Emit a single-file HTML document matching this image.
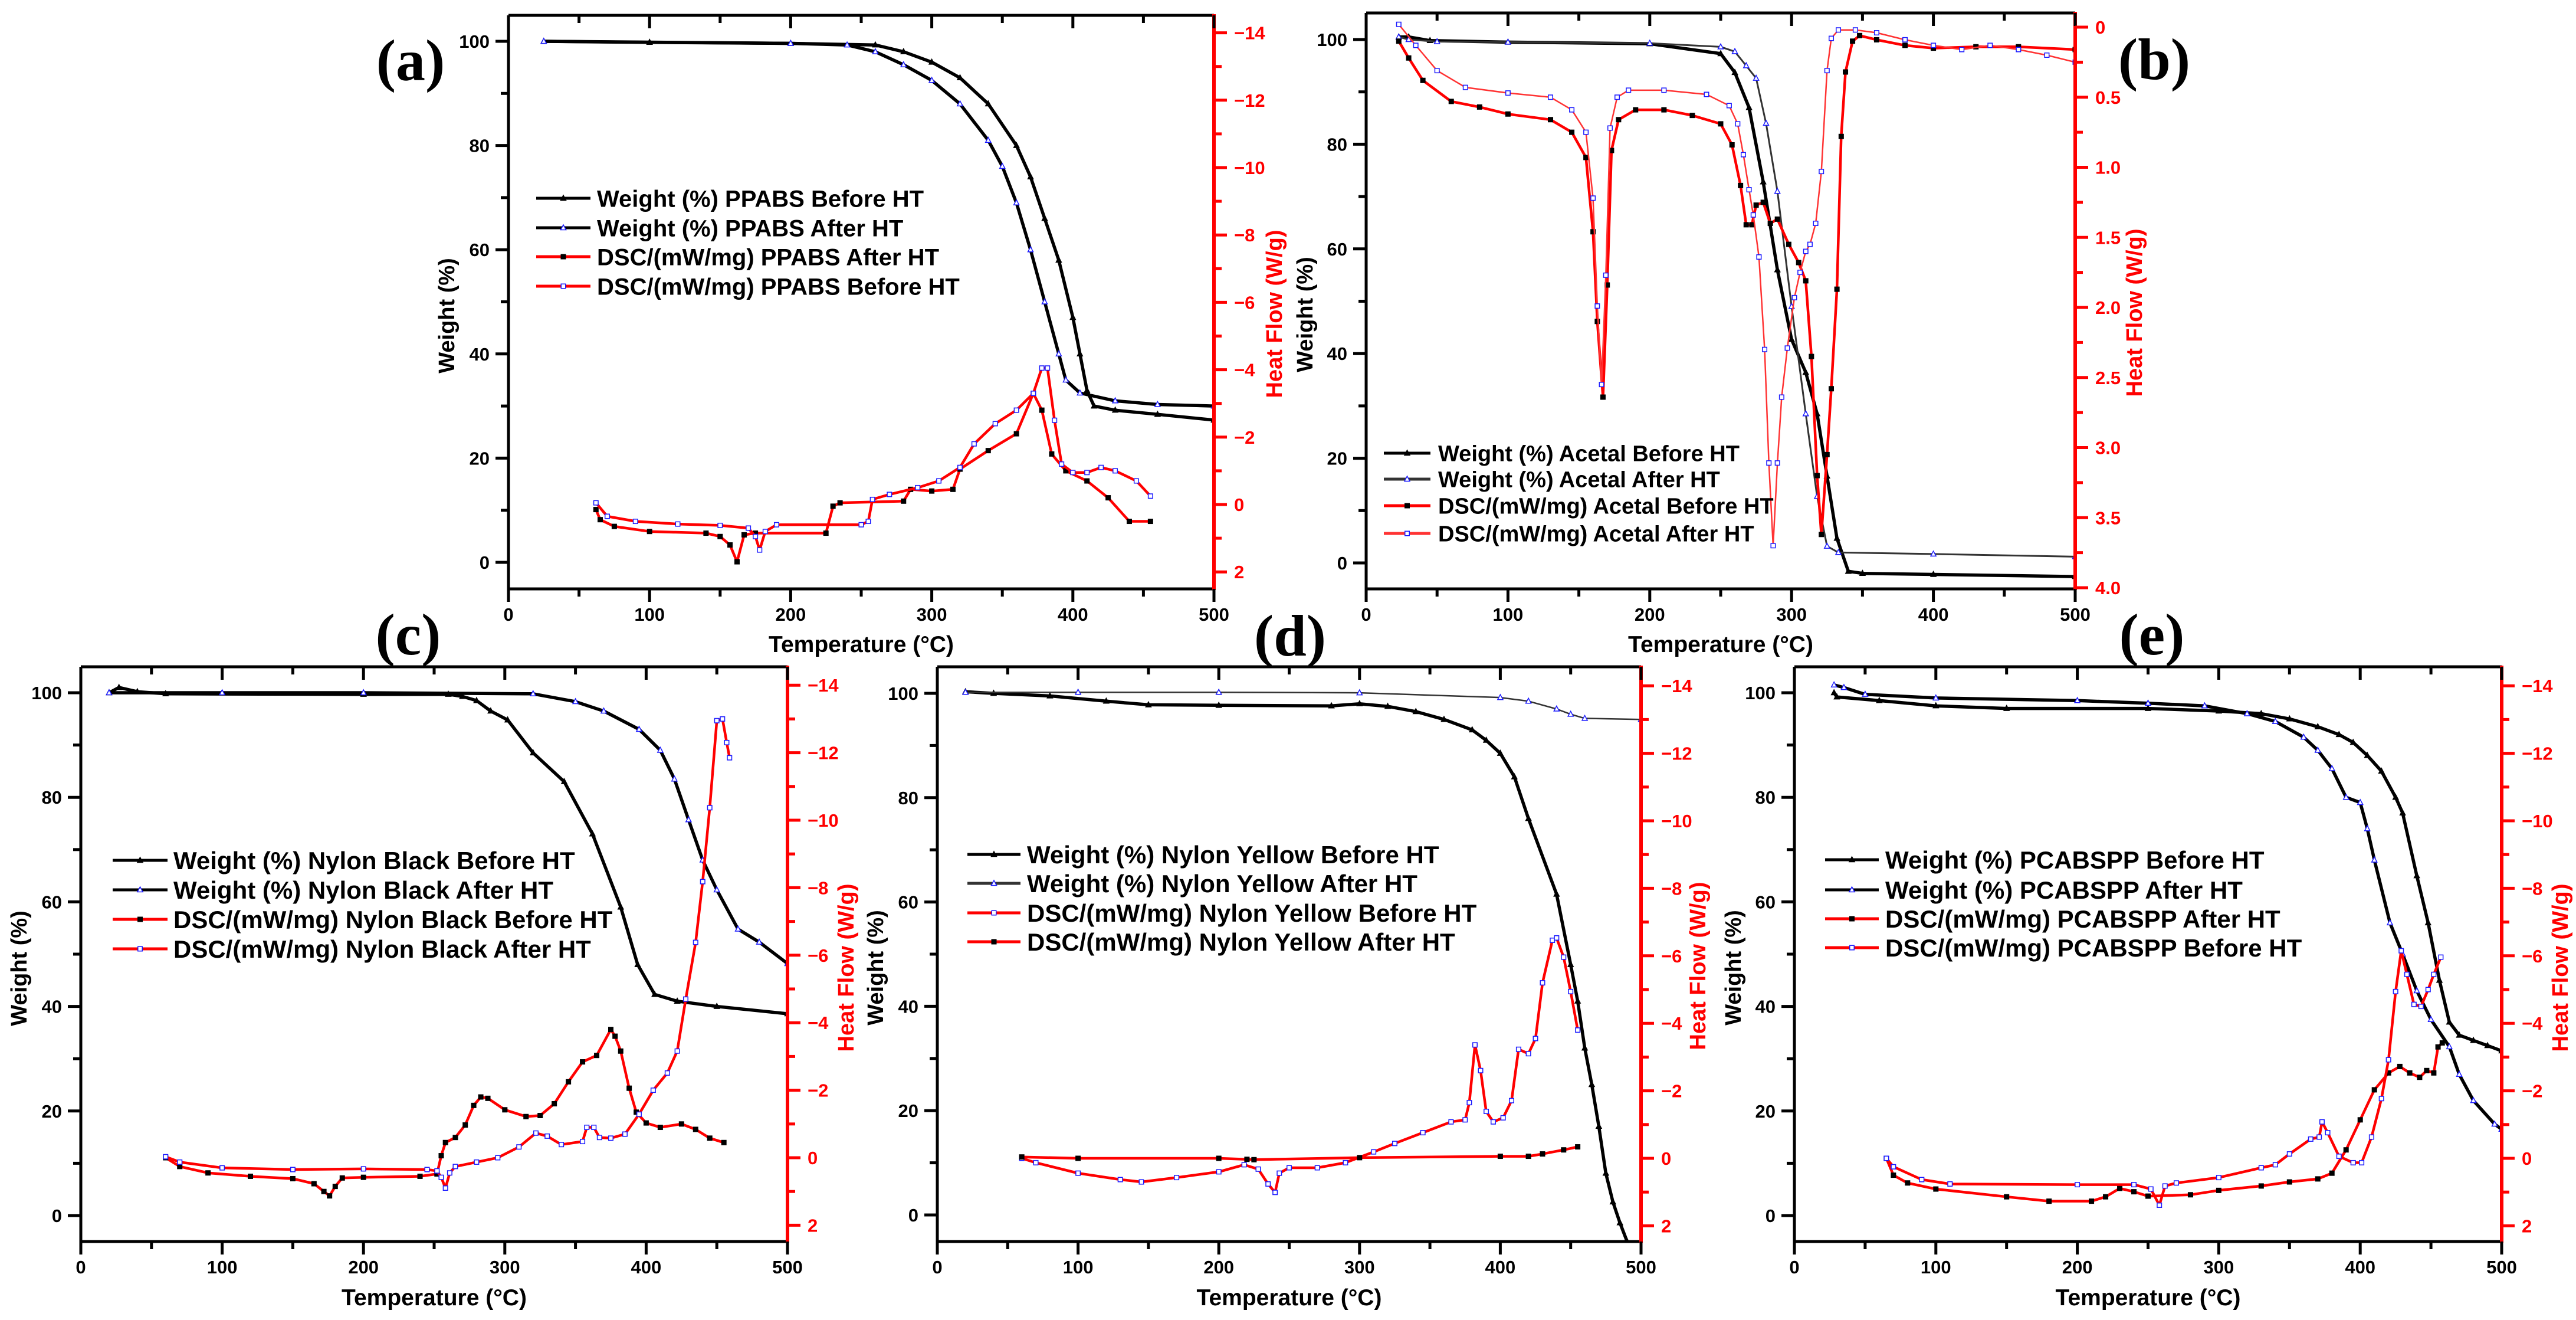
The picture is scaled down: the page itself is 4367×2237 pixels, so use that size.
<!DOCTYPE html>
<html><head><meta charset="utf-8"><style>
html,body{margin:0;padding:0;background:#fff;}
svg{display:block;}
text{font-family:"Liberation Sans",Arial,sans-serif;font-weight:bold;}
</style></head><body>
<svg id="fig" xmlns="http://www.w3.org/2000/svg" width="4367" height="2237" viewBox="0 0 4367 2237"></svg>
<script>
// ===== Panel (a) PPABS =====
const aWB_T=[25,100,200,260,280,300,320,340,360,370,380,390,400,405,410,415,430,460,500];
const aWB_V=[100,99.8,99.6,99.3,98,96,93,88,80,74,66,58,47,40,33,30,29.2,28.4,27.3];
const aWA_T=[25,200,240,260,280,300,320,340,350,360,370,380,390,395,405,430,460,500];
const aWA_V=[100,99.6,99.3,98,95.5,92.5,88,81,76,69,60,50,40,35,32.5,31,30.3,30];
const aDA_T=[62,65,75,100,140,150,157,162,167,175,225,230,235,280,285,300,315,320,340,360,372,378,385,395,410,425,440,455];
const aDA_V=[0.15,0.45,0.65,0.8,0.85,0.95,1.2,1.7,0.9,0.85,0.85,0.05,-0.05,-0.1,-0.45,-0.4,-0.45,-1.05,-1.6,-2.1,-3.3,-2.8,-1.5,-1.0,-0.7,-0.2,0.5,0.5];
const aDB_T=[62,70,90,120,150,170,175,178,182,190,250,255,258,270,290,305,320,330,345,360,372,378,382,387,392,400,410,420,430,445,455];
const aDB_V=[-0.05,0.35,0.5,0.58,0.62,0.7,0.95,1.35,0.8,0.6,0.6,0.5,-0.15,-0.3,-0.5,-0.7,-1.1,-1.8,-2.4,-2.8,-3.3,-4.05,-4.05,-2.5,-1.2,-0.95,-0.95,-1.1,-1.0,-0.7,-0.25];
// ===== Panel (b) Acetal =====
const bWB_T=[23,30,45,100,200,250,260,270,280,290,300,310,318,325,332,340,350,400,500];
const bWB_V=[100.5,100.5,99.8,99.5,99.2,97.3,93.7,87,72.8,56,42.7,36.4,28.5,16.6,4.7,-1.6,-2,-2.2,-2.6];
const bWA_T=[23,30,50,100,200,250,260,268,275,282,290,300,310,318,325,333,400,500];
const bWA_V=[100.5,100,99.6,99.5,99.3,98.6,97.7,95,92.6,84,71,49,28.5,12.7,3.2,2,1.7,1.2];
const bDB_T=[23,30,40,60,80,100,130,145,155,160,163,167,170,173,178,190,210,230,250,258,264,268,272,275,280,285,290,298,305,310,314,318,321,325,328,332,335,338,343,348,360,380,400,430,460,500];
const bDB_V=[0.1,0.22,0.38,0.53,0.57,0.62,0.66,0.75,0.93,1.46,2.1,2.64,1.84,0.88,0.66,0.59,0.59,0.63,0.69,0.84,1.13,1.41,1.41,1.27,1.25,1.4,1.37,1.55,1.68,1.81,2.35,3.2,3.62,3.05,2.58,1.87,0.78,0.32,0.1,0.06,0.09,0.13,0.15,0.14,0.14,0.16];
const bDA_T=[23,35,50,70,100,130,145,155,160,163,166,169,172,177,185,210,240,256,262,266,270,273,277,281,284,287,290,293,297,302,306,310,313,317,321,325,328,333,345,360,380,400,420,440,460,480,500];
const bDA_V=[-0.02,0.13,0.31,0.43,0.47,0.5,0.59,0.75,1.22,1.99,2.55,1.77,0.72,0.5,0.45,0.45,0.48,0.56,0.69,0.91,1.16,1.34,1.64,2.3,3.11,3.7,3.11,2.64,2.29,1.93,1.75,1.6,1.55,1.4,1.03,0.31,0.08,0.02,0.02,0.04,0.09,0.13,0.16,0.13,0.16,0.2,0.25];
// ===== Panel (c) Nylon Black =====
const cWB_T=[20,27,40,60,200,260,270,280,290,302,320,342,362,382,394,406,422,450,500];
const cWB_V=[100,101,100.2,99.8,99.7,99.7,99.3,98.5,96.5,94.8,88.5,83,73,59,48,42.3,41,40,38.6];
const cWA_T=[20,100,200,320,350,370,395,410,420,430,440,450,465,480,500];
const cWA_V=[100,100,100,99.8,98.3,96.5,93,89,83.5,75.7,68,62.3,54.8,52.3,48.2];
const cDB_T=[60,70,90,120,150,165,172,176,180,185,200,240,252,255,258,265,272,278,283,288,300,315,325,335,345,355,365,375,378,382,388,393,400,410,425,435,445,455];
const cDB_V=[0,0.26,0.45,0.55,0.62,0.77,1.0,1.13,0.85,0.6,0.58,0.55,0.48,-0.06,-0.45,-0.6,-0.97,-1.55,-1.8,-1.76,-1.42,-1.22,-1.25,-1.6,-2.25,-2.84,-3.03,-3.8,-3.6,-3.16,-2.06,-1.35,-1.03,-0.9,-1.0,-0.84,-0.58,-0.45];
const cDA_T=[60,70,100,150,200,245,252,255,258,261,265,280,295,310,322,330,340,355,358,363,367,375,385,395,405,415,422,428,435,440,445,450,454,457,459];
const cDA_V=[-0.03,0.13,0.3,0.35,0.33,0.35,0.39,0.58,0.9,0.45,0.26,0.13,0,-0.32,-0.73,-0.64,-0.39,-0.48,-0.9,-0.9,-0.6,-0.58,-0.7,-1.29,-2.0,-2.51,-3.16,-4.7,-6.38,-8.18,-10.37,-12.95,-13.0,-12.3,-11.85];
// ===== Panel (d) Nylon Yellow =====
const dWB_T=[20,40,80,120,150,200,280,300,320,340,360,380,390,400,410,420,440,450,455,460,465,470,475,480,485,490];
const dWB_V=[100.3,100,99.5,98.5,97.8,97.7,97.6,98,97.5,96.5,95,93,91,88.5,84,76,61.5,48,41,32,25,17,8,2.5,-1.5,-5];
const dWA_T=[20,100,200,300,400,420,440,450,460,500];
const dWA_V=[100.2,100.2,100.2,100.1,99.2,98.5,97,96,95.2,95];
const dDB_T=[60,70,100,130,145,170,200,218,228,235,240,243,250,270,290,310,325,345,365,375,378,382,386,390,395,402,408,413,420,425,430,437,440,445,450,455];
const dDB_V=[0,0.13,0.44,0.63,0.7,0.57,0.4,0.19,0.32,0.76,1.01,0.44,0.28,0.28,0.13,-0.19,-0.44,-0.76,-1.08,-1.14,-1.65,-3.36,-2.6,-1.39,-1.08,-1.2,-1.71,-3.23,-3.1,-3.55,-5.2,-6.46,-6.53,-5.96,-4.94,-3.8];
const dDA_T=[60,100,200,220,225,300,400,420,430,445,455];
const dDA_V=[-0.04,0,0,0.03,0.04,-0.02,-0.06,-0.06,-0.13,-0.25,-0.34];
// ===== Panel (e) PCABSPP =====
const eWB_T=[28,30,60,100,150,250,300,330,350,370,385,395,405,415,425,430,440,448,456,463,470,480,490,500];
const eWB_V=[100,99.2,98.5,97.5,97,97,96.5,96,95,93.5,92,90.5,88,85,80,77,65,56,45,37,34.5,33.5,32.5,31.5];
const eWA_T=[28,35,50,100,200,250,290,320,340,360,370,380,390,400,405,410,421,430,440,450,463,470,480,495,500];
const eWA_V=[101.5,101,99.7,99,98.5,98,97.5,96,94.5,91.5,89,85.5,80,79,74,68,56,50,43,37.5,32.3,27,22,17.5,16.5];
const eDA_T=[65,70,80,100,150,180,210,220,230,240,250,280,300,330,350,370,380,390,400,410,420,428,435,442,447,452,455,458];
const eDA_V=[0,0.5,0.73,0.91,1.14,1.27,1.27,1.14,0.89,0.99,1.12,1.08,0.95,0.82,0.7,0.61,0.44,-0.25,-1.14,-2.03,-2.53,-2.72,-2.53,-2.4,-2.6,-2.53,-3.3,-3.42];
const eDB_T=[65,70,90,110,200,240,252,258,262,270,300,330,340,350,365,371,373,377,385,395,401,408,415,420,425,429,433,438,443,448,452,457];
const eDB_V=[0,0.25,0.63,0.76,0.78,0.78,0.91,1.39,0.82,0.73,0.57,0.28,0.19,-0.13,-0.57,-0.63,-1.08,-0.76,-0.06,0.13,0.13,-0.63,-1.77,-2.92,-4.94,-6.15,-5.45,-4.56,-4.5,-5.0,-5.45,-5.96];

const xTicks=[0,100,200,300,400,500];
const wTicks=[0,20,40,60,80,100];
const rTicksStd=[-14,-12,-10,-8,-6,-4,-2,0,2];
const rTicksB=[0,0.5,1.0,1.5,2.0,2.5,3.0,3.5,4.0];

const NS="http://www.w3.org/2000/svg";
const svg=document.getElementById('fig');
function mk(tag,attrs,parent){const e=document.createElementNS(NS,tag);for(const k in attrs)e.setAttribute(k,attrs[k]);(parent||svg).appendChild(e);return e;}

const panels=[
 {id:'a',x0:862,x1:2058,top:26,bot:998,w100:70,w0:953,r0:855,rPer:57.1,rT:rTicksStd,rMinor:1,rFmt:v=>v<0?'\u2212'+(-v):String(v),
  tickY:1052,titleY:1105,wTitleX:758,wTitleY:535,hTitleX:2161,hTitleY:532,lab:'(a)',labX:696,labY:104,
  leg:{x1:909,x2:1001,tx:1012,ys:[336,386,435,485],fs:40},
  series:[
   {t:aWB_T,v:aWB_V,ax:'w',line:'#000',mk:'triF',name:'Weight (%) PPABS Before HT'},
   {t:aWA_T,v:aWA_V,ax:'w',line:'#000',mk:'triO',name:'Weight (%) PPABS After HT'},
   {t:aDA_T,v:aDA_V,ax:'r',line:'#f00',mk:'sqF',name:'DSC/(mW/mg) PPABS After HT'},
   {t:aDB_T,v:aDB_V,ax:'r',line:'#f00',mk:'sqO',name:'DSC/(mW/mg) PPABS Before HT'}]},
 {id:'b',x0:2316,x1:3518,top:22,bot:998,w100:67,w0:954,r0:46,rPer:237.5,rT:rTicksB,rMinor:0.25,rFmt:v=>v===0?'0':v.toFixed(1),
  tickY:1052,titleY:1105,wTitleX:2213,wTitleY:533,hTitleX:3619,hTitleY:530,lab:'(b)',labX:3652,labY:102,
  leg:{x1:2346,x2:2425,tx:2438,ys:[768,812,857,904],fs:38},
  series:[
   {t:bWB_T,v:bWB_V,ax:'w',line:'#000',mk:'triF',name:'Weight (%) Acetal Before HT'},
   {t:bWA_T,v:bWA_V,ax:'w',line:'#333',mk:'triO',name:'Weight (%) Acetal After HT',lw:3},
   {t:bDB_T,v:bDB_V,ax:'r',line:'#f00',mk:'sqF',name:'DSC/(mW/mg) Acetal Before HT'},
   {t:bDA_T,v:bDA_V,ax:'r',line:'#f33',mk:'sqO',name:'DSC/(mW/mg) Acetal After HT',lw:2.5}]},
 {id:'c',x0:137,x1:1335,top:1130,bot:2104,w100:1174,w0:2060,r0:1962,rPer:57.2,rT:rTicksStd,rMinor:1,rFmt:v=>v<0?'\u2212'+(-v):String(v),
  tickY:2158,titleY:2212,wTitleX:33,wTitleY:1641,hTitleX:1435,hTitleY:1640,lab:'(c)',labX:692,labY:1077,
  leg:{x1:191,x2:284,tx:294,ys:[1458,1508,1558,1608],fs:42},
  series:[
   {t:cWB_T,v:cWB_V,ax:'w',line:'#000',mk:'triF',name:'Weight (%) Nylon Black Before HT'},
   {t:cWA_T,v:cWA_V,ax:'w',line:'#000',mk:'triO',name:'Weight (%) Nylon Black After HT'},
   {t:cDB_T,v:cDB_V,ax:'r',line:'#f00',mk:'sqF',name:'DSC/(mW/mg) Nylon Black Before HT'},
   {t:cDA_T,v:cDA_V,ax:'r',line:'#f00',mk:'sqO',name:'DSC/(mW/mg) Nylon Black After HT'}]},
 {id:'d',x0:1589,x1:2782,top:1130,bot:2104,w100:1175,w0:2059,r0:1963,rPer:57.2,rT:rTicksStd,rMinor:1,rFmt:v=>v<0?'\u2212'+(-v):String(v),
  tickY:2158,titleY:2212,wTitleX:1485,wTitleY:1640,hTitleX:2879,hTitleY:1637,lab:'(d)',labX:2187,labY:1079,
  leg:{x1:1640,x2:1730,tx:1741,ys:[1448,1497,1547,1596],fs:42},
  series:[
   {t:dWB_T,v:dWB_V,ax:'w',line:'#000',mk:'triF',name:'Weight (%) Nylon Yellow Before HT'},
   {t:dWA_T,v:dWA_V,ax:'w',line:'#333',mk:'triO',name:'Weight (%) Nylon Yellow After HT',lw:2.5},
   {t:dDB_T,v:dDB_V,ax:'r',line:'#f00',mk:'sqO',name:'DSC/(mW/mg) Nylon Yellow Before HT'},
   {t:dDA_T,v:dDA_V,ax:'r',line:'#f00',mk:'sqF',name:'DSC/(mW/mg) Nylon Yellow After HT'}]},
 {id:'e',x0:3042,x1:4241,top:1130,bot:2104,w100:1174,w0:2060,r0:1963,rPer:57.2,rT:rTicksStd,rMinor:1,rFmt:v=>v<0?'\u2212'+(-v):String(v),
  tickY:2158,titleY:2212,wTitleX:2939,wTitleY:1640,hTitleX:4341,hTitleY:1640,lab:'(e)',labX:3648,labY:1077,
  leg:{x1:3094,x2:3185,tx:3196,ys:[1457,1508,1557,1606],fs:42},
  series:[
   {t:eWB_T,v:eWB_V,ax:'w',line:'#000',mk:'triF',name:'Weight (%) PCABSPP Before HT'},
   {t:eWA_T,v:eWA_V,ax:'w',line:'#000',mk:'triO',name:'Weight (%) PCABSPP After HT'},
   {t:eDA_T,v:eDA_V,ax:'r',line:'#f00',mk:'sqF',name:'DSC/(mW/mg) PCABSPP After HT'},
   {t:eDB_T,v:eDB_V,ax:'r',line:'#f00',mk:'sqO',name:'DSC/(mW/mg) PCABSPP Before HT'}]}
];

function marker(g,type,x,y,s){
  let e;
  if(type==='triF'||type==='triO'){
    e=mk('polygon',{points:`${x},${y-s} ${x-s*0.9},${y+s*0.7} ${x+s*0.9},${y+s*0.7}`,fill:type==='triF'?'#000':'#fff',stroke:type==='triF'?'#000':'#1a1aff','stroke-width':1.5},g);
  } else {
    e=mk('rect',{x:x-s*0.75,y:y-s*0.75,width:s*1.5,height:s*1.5,fill:type==='sqF'?'#000':'#fff',stroke:type==='sqF'?'#000':'#1a1aff','stroke-width':1.5},g);
  }
  return e;
}

panels.forEach(p=>{
  const g=mk('g',{});
  
  
  const X=t=>p.x0+(p.x1-p.x0)*t/500;
  const YW=w=>p.w0+(p.w100-p.w0)*w/100;
  const YR=v=>p.r0+v*p.rPer;
  const cp=mk('clipPath',{id:'clip-'+p.id},g);
  mk('rect',{x:p.x0,y:p.top,width:p.x1-p.x0,height:p.bot-p.top},cp);
  p.series.forEach((s,i)=>{
    const sg=mk('g',{'clip-path':`url(#clip-${p.id})`},g);
    
    
    const Y=s.ax==='w'?YW:YR;
    const pts=s.t.map((t,k)=>X(t).toFixed(1)+','+Y(s.v[k]).toFixed(1)).join(' ');
    const pl=mk('polyline',{points:pts,fill:'none',stroke:s.line,'stroke-width':s.lw||(s.ax==='w'?5.5:4.5),'stroke-linejoin':'round'},sg);
    
    
    s.t.forEach((t,k)=>{
      const m=marker(sg,s.mk,X(t),Y(s.v[k]),5);
      
      
    });
  });
  const ag=mk('g',{},g);
  
  
  mk('line',{x1:p.x0,y1:p.top,x2:p.x1,y2:p.top,stroke:'#000','stroke-width':5},ag);
  mk('line',{x1:p.x0,y1:p.bot,x2:p.x1,y2:p.bot,stroke:'#000','stroke-width':5},ag);
  mk('line',{x1:p.x0,y1:p.top,x2:p.x0,y2:p.bot+2,stroke:'#000','stroke-width':5},ag);
  mk('line',{x1:p.x1,y1:p.top-2,x2:p.x1,y2:p.bot+2,stroke:'#f00','stroke-width':6},ag);
  for(let t=0;t<=500;t+=50){
    const maj=t%100===0, x=X(t), L=maj?22:13;
    mk('line',{x1:x,y1:p.bot,x2:x,y2:p.bot+L,stroke:'#000','stroke-width':5},ag);
    mk('line',{x1:x,y1:p.top,x2:x,y2:p.top+L,stroke:'#000','stroke-width':5},ag);
  }
  xTicks.forEach(t=>{
    const tx=mk('text',{x:X(t),y:p.tickY,'font-size':31,'text-anchor':'middle',fill:'#000'},ag);
    tx.textContent=t;
    
    
  });
  for(let w=0;w<=100;w+=10){
    const y=YW(w), L=w%20===0?22:13;
    mk('line',{x1:p.x0-L,y1:y,x2:p.x0,y2:y,stroke:'#000','stroke-width':5},ag);
  }
  wTicks.forEach(w=>{
    const tx=mk('text',{x:p.x0-32,y:YW(w)+11,'font-size':31,'text-anchor':'end',fill:'#000'},ag);
    tx.textContent=w;
    
    
  });
  const rs=p.rT[0], re=p.rT[p.rT.length-1];
  for(let v=rs;v<=re+1e-9;v+=p.rMinor){
    const maj=p.rT.some(q=>Math.abs(q-v)<1e-6), y=YR(v), L=maj?22:13;
    mk('line',{x1:p.x1,y1:y,x2:p.x1+L,y2:y,stroke:'#f00','stroke-width':5},ag);
  }
  p.rT.forEach(v=>{
    const tx=mk('text',{x:p.x1+34,y:YR(v)+11,'font-size':31,'text-anchor':'start',fill:'#f00'},ag);
    tx.textContent=p.rFmt(v);
    
    
  });
  const xt=mk('text',{x:(p.x0+p.x1)/2,y:p.titleY,'font-size':39,'text-anchor':'middle',fill:'#000'},g);
  xt.textContent='Temperature (\u00B0C)';
  
  
  const wt=mk('text',{x:0,y:0,'font-size':38,'text-anchor':'middle','dominant-baseline':'central',fill:'#000',transform:`translate(${p.wTitleX},${p.wTitleY}) rotate(-90)`},g);
  wt.textContent='Weight (%)';
  
  
  const ht=mk('text',{x:0,y:0,'font-size':38,'text-anchor':'middle','dominant-baseline':'central',fill:'#f00',transform:`translate(${p.hTitleX},${p.hTitleY}) rotate(-90)`},g);
  ht.textContent='Heat Flow (W/g)';
  
  
  const pl=mk('text',{x:p.labX,y:p.labY+32,'font-size':100,'text-anchor':'middle',fill:'#000',style:'font-family:"Liberation Serif","Times New Roman",serif;font-weight:bold'},g);
  pl.textContent=p.lab;
  
  
  const lg=mk('g',{},g);
  
  
  p.series.forEach((s,i)=>{
    const y=p.leg.ys[i];
    const le=mk('g',{},lg);
    
    
    mk('line',{x1:p.leg.x1,y1:y,x2:p.leg.x2,y2:y,stroke:s.line,'stroke-width':5},le);
    marker(le,s.mk,(p.leg.x1+p.leg.x2)/2,y,5);
    const t=mk('text',{x:p.leg.tx,y:y+p.leg.fs*0.36,'font-size':p.leg.fs,fill:'#000'},le);
    t.textContent=s.name;
  });
});
</script>
</body></html>
